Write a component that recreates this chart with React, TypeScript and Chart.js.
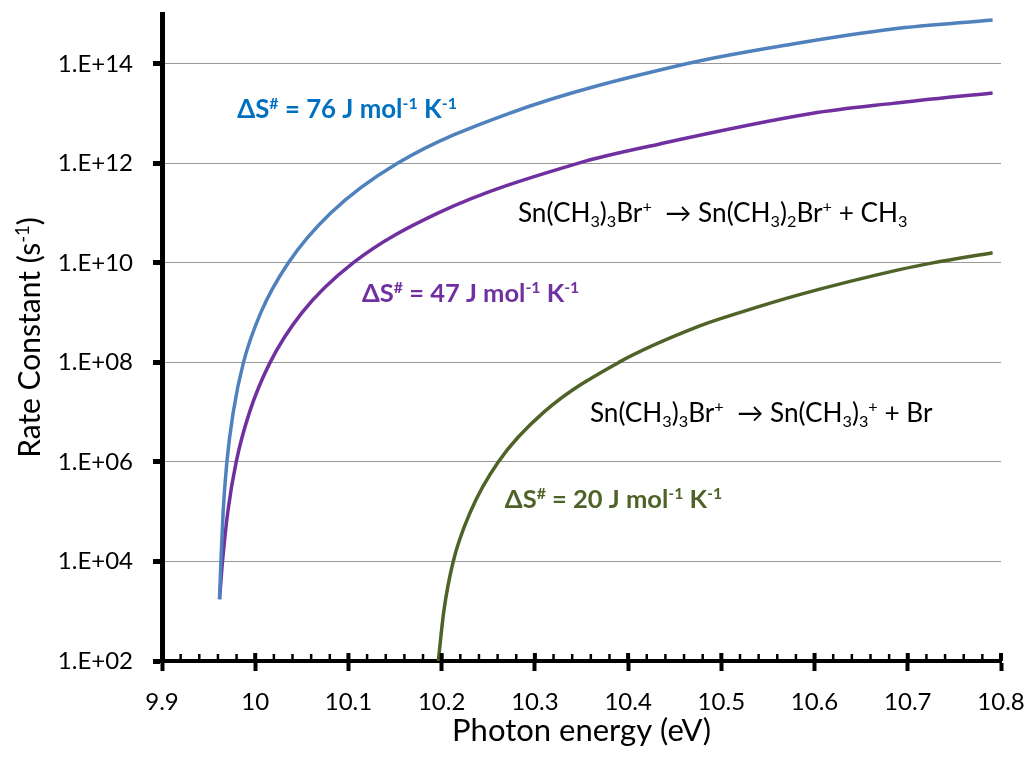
import React, { useEffect, useRef } from 'react';
import { Chart, registerables } from 'chart.js';

Chart.register(...registerables);

// ---------- data ----------
const blueEnergy = [9.9617, 9.9632, 9.9656, 9.9696, 9.9764, 9.9874, 10.006, 10.0356, 10.081, 10.1526, 10.2718, 10.4625, 10.5767, 10.6839, 10.791];
const blueRate = [1.74e3, 1e4, 1e5, 1e6, 1e7, 1e8, 1e9, 1e10, 1e11, 1e12, 1e13, 1e14, 2.5e14, 5.0e14, 7.6e14];

const purpleEnergy = [9.9617, 9.9649, 9.9706, 9.9796, 9.9939, 10.016, 10.0502, 10.105, 10.1959, 10.3461, 10.4339, 10.5966, 10.6839, 10.791];
const purpleRate = [1.74e3, 1e4, 1e5, 1e6, 1e7, 1e8, 1e9, 1e10, 1e11, 1e12, 2.45e12, 1e13, 1.6e13, 2.6e13];

const greenEnergy = [10.1964, 10.2023, 10.2124, 10.2309, 10.2607, 10.3096, 10.39, 10.4768, 10.5196, 10.5839, 10.6911, 10.7267, 10.791];
const greenRate = [1e2, 1e3, 1e4, 1e5, 1e6, 1e7, 1e8, 5.4e8, 1e9, 2.3e9, 7.3e9, 1e10, 1.6e10];

const xTickValues = [9.9, 10.0, 10.1, 10.2, 10.3, 10.4, 10.5, 10.6, 10.7, 10.8];
const yTickValues = [1e2, 1e4, 1e6, 1e8, 1e10, 1e12, 1e14];
const xMin = 9.9;
const xMax = 10.8;
const yMin = 1e2;
const yMax = 1e15;

const xTitle = 'Photon energy (eV)';

type Seg = { t: string; s?: 'sup' | 'sub' };

const yTitleSegs: Seg[] = [{ t: 'Rate Constant (s' }, { t: '-1', s: 'sup' }, { t: ')' }];

// annotation anchors (left, baseline) in data units
const noteEnergy = [9.9807, 10.1146, 10.2678, 10.2818, 10.359];
const noteRate = [8.2e12, 1.65e9, 1.17e5, 6.76e10, 6.46e6];
const noteSegs: Seg[][] = [
  [{ t: 'Δ' }, { t: 'S' }, { t: '#', s: 'sup' }, { t: ' = 76 J mol' }, { t: '-1', s: 'sup' }, { t: ' K' }, { t: '-1', s: 'sup' }],
  [{ t: 'Δ' }, { t: 'S' }, { t: '#', s: 'sup' }, { t: ' = 47 J mol' }, { t: '-1', s: 'sup' }, { t: ' K' }, { t: '-1', s: 'sup' }],
  [{ t: 'Δ' }, { t: 'S' }, { t: '#', s: 'sup' }, { t: ' = 20 J mol' }, { t: '-1', s: 'sup' }, { t: ' K' }, { t: '-1', s: 'sup' }],
  [{ t: 'Sn(CH' }, { t: '3', s: 'sub' }, { t: ')' }, { t: '3', s: 'sub' }, { t: 'Br' }, { t: '+', s: 'sup' }, { t: '  \u2192 Sn(CH' }, { t: '3', s: 'sub' }, { t: ')' }, { t: '2', s: 'sub' }, { t: 'Br' }, { t: '+', s: 'sup' }, { t: ' + CH' }, { t: '3', s: 'sub' }],
  [{ t: 'Sn(CH' }, { t: '3', s: 'sub' }, { t: ')' }, { t: '3', s: 'sub' }, { t: 'Br' }, { t: '+', s: 'sup' }, { t: '  \u2192 Sn(CH' }, { t: '3', s: 'sub' }, { t: ')' }, { t: '3', s: 'sub' }, { t: '+', s: 'sup' }, { t: ' + Br' }],
];
const noteBold = [true, true, true, false, false];
const noteSize = [25.8, 25.5, 25.5, 26.2, 26.2];
const noteColor = ['#0070C0', '#7030A0', '#4F6228', '#000000', '#000000'];

const FONT = "Lato, 'Open Sans', sans-serif";

function segFont(sg: Seg, size: number, bold: boolean) {
  const fs = sg.s ? size * 0.62 : size;
  return `${bold ? 'bold ' : ''}${fs}px ${FONT}`;
}

function richWidth(ctx: CanvasRenderingContext2D, segs: Seg[], size: number, bold: boolean) {
  let w = 0;
  for (const sg of segs) {
    ctx.font = segFont(sg, size, bold);
    w += ctx.measureText(sg.t).width;
  }
  return w;
}

function drawRich(ctx: CanvasRenderingContext2D, x: number, y: number, segs: Seg[], size: number, bold: boolean, color: string) {
  ctx.fillStyle = color;
  ctx.textAlign = 'left';
  ctx.textBaseline = 'alphabetic';
  let cx = x;
  for (const sg of segs) {
    ctx.font = segFont(sg, size, bold);
    const dy = sg.s === 'sup' ? -size * 0.36 : sg.s === 'sub' ? size * 0.2 : 0;
    ctx.fillText(sg.t, cx, y + dy);
    cx += ctx.measureText(sg.t).width;
  }
}

const decorPlugin = {
  id: 'decor',
  afterDraw(chart: any) {
    const { ctx, chartArea, scales } = chart;
    const xs = scales.x;
    const ys = scales.y;
    ctx.save();
    // x-axis ticks above the axis (major + minor)
    const y0 = chartArea.bottom;
    ctx.fillStyle = '#000';
    for (let i = 0; i < xTickValues.length; i++) {
      const px = xs.getPixelForValue(xTickValues[i]);
      ctx.fillRect(px - 2, y0 - 8, 4, 8);
      if (i < xTickValues.length - 1) {
        const a = xTickValues[i];
        const b = xTickValues[i + 1];
        for (let k = 1; k < 5; k++) {
          const mx = xs.getPixelForValue(a + ((b - a) * k) / 5);
          ctx.fillRect(mx - 1.25, y0 - 7, 2.5, 7);
        }
      }
    }
    // annotations
    for (let i = 0; i < noteSegs.length; i++) {
      const px = xs.getPixelForValue(noteEnergy[i]);
      const py = ys.getPixelForValue(noteRate[i]);
      drawRich(ctx, px, py, noteSegs[i], noteSize[i], noteBold[i], noteColor[i]);
    }
    // y-axis title (rotated)
    const size = 30;
    const w = richWidth(ctx, yTitleSegs, size, false);
    const cy = (chartArea.top + chartArea.bottom) / 2;
    ctx.translate(40, cy);
    ctx.rotate(-Math.PI / 2);
    drawRich(ctx, -w / 2, 0, yTitleSegs, size, false, '#000');
    ctx.restore();
  },
};

const zeroPad = (scale: any) => {
  scale.paddingTop = 0;
  scale.paddingBottom = 0;
  scale.paddingLeft = 0;
  scale.paddingRight = 0;
};

export default function App() {
  const ref = useRef<HTMLCanvasElement | null>(null);

  useEffect(() => {
    if (!ref.current) return;
    const mk = (xsArr: number[], ysArr: number[]) => xsArr.map((x, i) => ({ x, y: ysArr[i] }));
    const chart = new Chart(ref.current, {
      type: 'line',
      data: {
        datasets: [
          { data: mk(blueEnergy, blueRate), borderColor: '#4F81BD', borderWidth: 3.5, pointRadius: 0, cubicInterpolationMode: 'monotone', fill: false },
          { data: mk(purpleEnergy, purpleRate), borderColor: '#7030A0', borderWidth: 3.5, pointRadius: 0, cubicInterpolationMode: 'monotone', fill: false },
          { data: mk(greenEnergy, greenRate), borderColor: '#4F6228', borderWidth: 3.5, pointRadius: 0, cubicInterpolationMode: 'monotone', fill: false },
        ],
      },
      options: {
        animation: false,
        responsive: false,
        devicePixelRatio: 1,
        layout: { padding: { left: 0, right: 30, top: 14, bottom: 0 } },
        plugins: { legend: { display: false }, tooltip: { enabled: false } },
        scales: {
          x: {
            type: 'linear',
            min: xMin,
            max: xMax,
            afterBuildTicks: (scale: any) => {
              scale.ticks = xTickValues.map((v) => ({ value: v }));
            },
            afterFit: (scale: any) => {
              scale.height = 102;
              zeroPad(scale);
            },
            ticks: {
              autoSkip: false,
              maxRotation: 0,
              color: '#000',
              padding: 17,
              font: { family: FONT, size: 24 },
              callback: (v: any) => String(parseFloat(Number(v).toFixed(1))),
            },
            grid: { drawOnChartArea: false, drawTicks: true, tickLength: 10, tickWidth: 4, tickColor: '#000' },
            border: { display: true, color: '#000', width: 4 },
            title: { display: true, text: xTitle, color: '#000', font: { family: FONT, size: 31 }, padding: { top: 0, bottom: 13 } },
          },
          y: {
            type: 'logarithmic',
            min: yMin,
            max: yMax,
            afterBuildTicks: (scale: any) => {
              scale.ticks = yTickValues.map((v) => ({ value: v }));
            },
            afterFit: (scale: any) => {
              scale.width = 162;
              zeroPad(scale);
            },
            ticks: {
              autoSkip: false,
              color: '#000',
              padding: 20,
              font: { family: FONT, size: 24 },
              callback: (v: any) => '1.E+' + String(Math.round(Math.log10(Number(v)))).padStart(2, '0'),
            },
            grid: { color: '#999999', lineWidth: 1, drawTicks: true, tickLength: 9, tickWidth: 5, tickColor: '#000' },
            border: { display: true, color: '#000', width: 5 },
          },
        },
      },
      plugins: [decorPlugin],
    } as any);
    return () => chart.destroy();
  }, []);

  return (
    <div style={{ position: 'absolute', left: 0, top: 0, width: 1031, height: 763, background: '#fff' }}>
      <canvas ref={ref} width={1031} height={763} />
    </div>
  );
}
